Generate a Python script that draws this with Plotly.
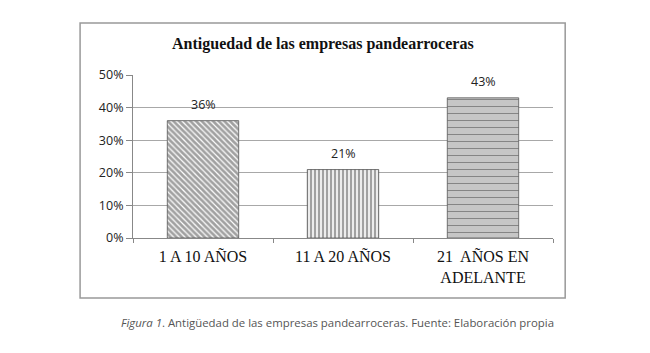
import plotly.graph_objects as go

categories = ["1 A 10 AÑOS", "11 A 20 AÑOS", "21  AÑOS EN<br>ADELANTE"]
values = [0.36, 0.21, 0.43]
labels = ["36%", "21%", "43%"]
y_ticks = [0, 0.1, 0.2, 0.3, 0.4, 0.5]
y_ticktext = ["0%", "10%", "20%", "30%", "40%", "50%"]

patterns = ["\\", "|", "-"]
bgcolors = ["#ffffff", "#ffffff", "#c6c6c6"]
fgcolors = ["#1a1a1a", "#2a2a2a", "#777777"]
sizes = [4, 4, 7]
solidities = [0.7, 0.6, 0.15]

fig = go.Figure()
fig.add_trace(go.Bar(
    x=categories, y=values,
    width=0.51,
    marker=dict(
        color=bgcolors,
        line=dict(color="#555555", width=0.8),
        pattern=dict(shape=patterns, fgcolor=fgcolors, bgcolor=bgcolors,
                     size=sizes, solidity=solidities, fillmode="overlay"),
    ),
))

annotations = [
    dict(text=t, x=c, y=v, xref="x", yref="y", showarrow=False,
         yanchor="bottom", yshift=6,
         font=dict(family="Open Sans, sans-serif", size=12.5, color="#222"))
    for c, v, t in zip(categories, values, labels)
]
annotations += [
    dict(text="<b>Antiguedad de las empresas pandearroceras</b>",
         xref="paper", yref="paper", x=0.452, y=1.19, showarrow=False,
         xanchor="center", yanchor="middle",
         font=dict(family="Liberation Serif, serif", size=16, color="#111")),
    dict(text="<i>Figura 1</i>. Antigüedad de las empresas pandearroceras. Fuente: Elaboración propia",
         xref="paper", yref="paper", x=0.486, y=-0.521, showarrow=False,
         xanchor="center", yanchor="middle",
         font=dict(family="Open Sans, sans-serif", size=11.4, color="#555")),
]

fig.update_layout(
    width=650, height=353,
    margin=dict(l=133, r=97, t=75, b=115),
    paper_bgcolor="white", plot_bgcolor="white",
    showlegend=False,
    xaxis=dict(
        showgrid=False, showline=True, linecolor="#888", linewidth=1,
        ticks="outside", tickson="boundaries", ticklen=4, tickcolor="#888",
        ticklabelstandoff=4,
        tickfont=dict(family="Liberation Serif, serif", size=16, color="#111"),
    ),
    yaxis=dict(
        range=[0, 0.5], tickvals=y_ticks, ticktext=y_ticktext,
        showgrid=True, gridcolor="#a8a8a8", gridwidth=1,
        showline=True, linecolor="#888", linewidth=1,
        ticks="outside", ticklen=6, tickcolor="#888",
        tickfont=dict(family="Open Sans, sans-serif", size=12.5, color="#222"),
        zeroline=False,
    ),
    shapes=[dict(type="rect", xref="paper", yref="paper",
                 x0=-0.126, x1=1.029, y0=-0.368, y1=1.319,
                 line=dict(color="#999999", width=1.5))],
    annotations=annotations,
)

fig.write_html("out.html")
